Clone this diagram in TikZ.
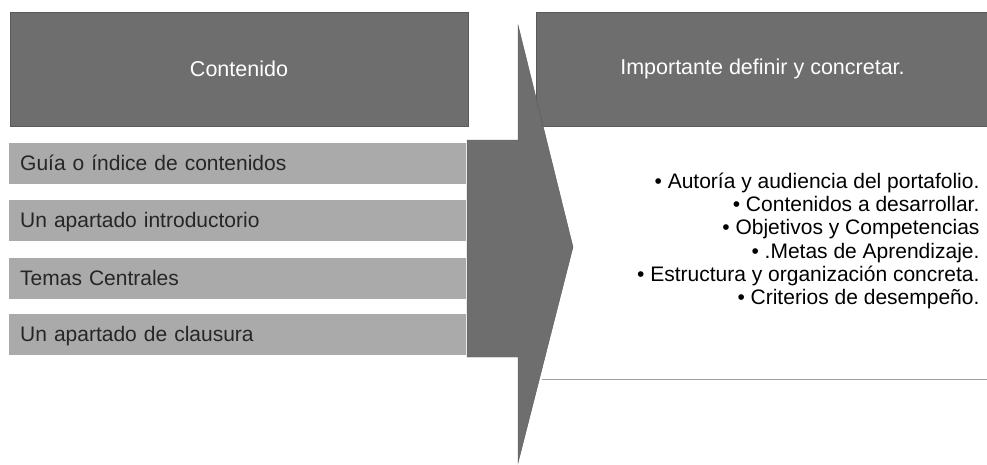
\documentclass[tikz,border=0pt]{standalone}
\usepackage{fontspec}
\setmainfont{Liberation Sans}
\definecolor{headfill}{HTML}{6E6E6E}
\definecolor{headline}{HTML}{5A5A5A}
\definecolor{itemfill}{HTML}{AAAAAA}
\definecolor{itemtext}{HTML}{262626}
\definecolor{rulegray}{HTML}{A0A0A0}
\tikzset{
  itembar/.style={rectangle,fill=itemfill,text=itemtext,anchor=west,
    minimum height=41pt,inner xsep=11pt,text width=435pt,align=left,
    text height=16pt,text depth=2pt,
    font=\fontsize{21}{24}\selectfont},
}
\begin{document}
\begin{tikzpicture}[x=1pt,y=-1pt]
      \useasboundingbox (0,0) rectangle (987,464);

      \begin{scope}[every node/.style={rectangle,draw=headline,fill=headfill,
          text=white,minimum height=114pt,font=\fontsize{21.5}{24}\selectfont}]
        \node (contenido)  at (239,69)   [minimum width=458pt] {Contenido};
        \node (importante) at (762.5,69) [minimum width=453pt] {Importante definir y concretar.};
      \end{scope}

      \begin{scope}[every node/.style={itembar}]
        \node (guia)     at (9,163) {Guía o índice de contenidos};
        \node (intro)    at (9,220) {Un apartado introductorio};
        \node (temas)    at (9,278) {Temas Centrales};
        \node (clausura) at (9,334) {Un apartado de clausura};
      \end{scope}

      \filldraw[fill=headfill,draw=headline]
        (518,25) -- (573,247) -- (518,463) -- (518,357)
        -- (467,357) -- (467,140) -- (518,140) -- cycle;

      \draw[rulegray] (542,379) -- (987,379);

      \node (metas) [anchor=east,align=right,text=black,
          font=\fontsize{21}{23.3}\selectfont] at (983,241)
        {• Autoría y audiencia del portafolio.\\
         • Contenidos a desarrollar.\\
         • Objetivos y Competencias\\
         • .Metas de Aprendizaje.\\
         • Estructura y organización concreta.\\
         • Criterios de desempeño.};

    \end{tikzpicture}
\end{document}
